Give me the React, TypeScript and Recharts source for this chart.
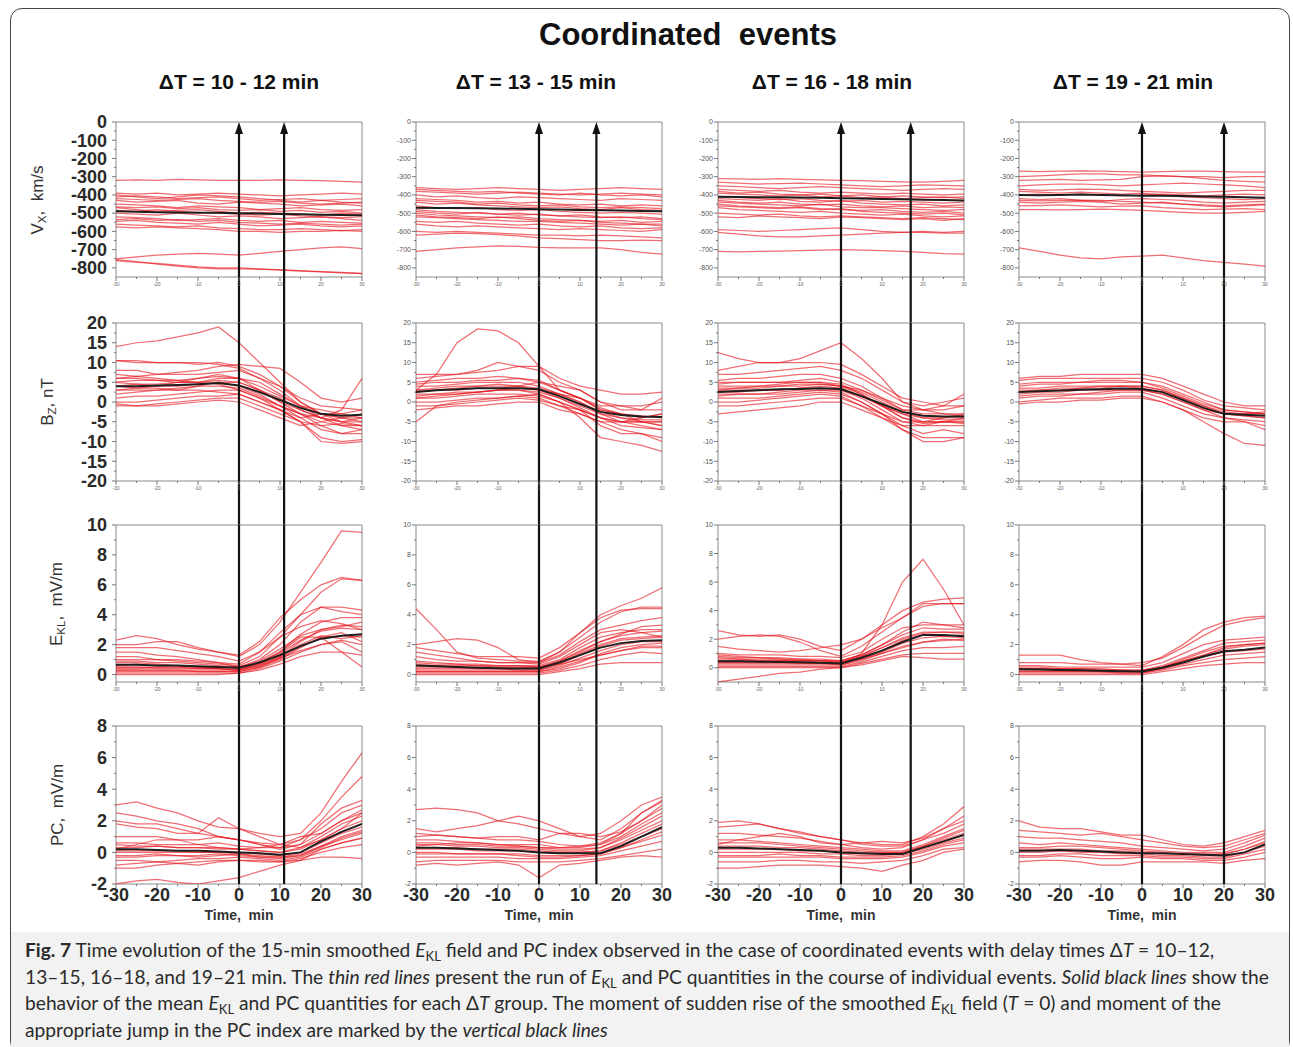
import React from 'react';
import { LineChart, Line, XAxis, YAxis, ReferenceLine, ReferenceArea } from 'recharts';

// time axis, minutes relative to the E_KL rise
const TIME = [-30, -25, -20, -15, -10, -5, 0, 5, 10, 15, 20, 25, 30];
const X_TICKS = [-30, -20, -10, 0, 10, 20, 30];
const DELAYS = [11, 14, 17, 20];
const GROUPS = ['ΔT = 10 - 12 min', 'ΔT = 13 - 15 min', 'ΔT = 16 - 18 min', 'ΔT = 19 - 21 min'];

const VX_TICKS = [0, -100, -200, -300, -400, -500, -600, -700, -800];
const BZ_TICKS = [20, 15, 10, 5, 0, -5, -10, -15, -20];
const EKL_TICKS = [10, 8, 6, 4, 2, 0];
const PC_TICKS = [8, 6, 4, 2, 0, -2];

// Vx, km/s
const vxA = [
  [-320, -318, -320, -315, -318, -320, -320, -320, -318, -320, -322, -325, -330],
  [-390, -395, -390, -400, -395, -390, -395, -400, -405, -400, -395, -390, -395],
  [-410, -405, -410, -420, -415, -410, -420, -430, -425, -420, -430, -440, -445],
  [-430, -440, -435, -430, -445, -450, -440, -445, -450, -460, -455, -450, -460],
  [-450, -455, -460, -470, -460, -465, -470, -480, -475, -470, -480, -485, -480],
  [-470, -480, -490, -485, -480, -490, -500, -495, -500, -505, -510, -500, -505],
  [-500, -505, -510, -500, -510, -520, -515, -520, -530, -525, -520, -530, -540],
  [-520, -525, -530, -540, -535, -530, -540, -545, -540, -550, -545, -550, -555],
  [-545, -540, -550, -555, -560, -550, -560, -570, -565, -560, -570, -575, -570],
  [-560, -565, -570, -575, -570, -580, -585, -590, -590, -585, -590, -595, -590],
  [-575, -580, -575, -580, -585, -590, -600, -600, -605, -600, -600, -595, -600],
  [-400, -410, -420, -410, -400, -405, -410, -420, -430, -440, -430, -425, -420],
  [-420, -425, -430, -425, -420, -430, -435, -440, -435, -445, -450, -445, -440],
  [-485, -490, -480, -490, -495, -500, -505, -510, -505, -515, -520, -525, -520],
  [-535, -530, -540, -535, -545, -540, -550, -555, -560, -555, -560, -565, -560],
  [-465, -470, -465, -475, -470, -480, -485, -480, -490, -485, -495, -490, -500],
  [-750, -740, -730, -725, -720, -725, -730, -720, -710, -700, -690, -685, -695],
  [-755, -765, -780, -790, -800, -805, -805, -808, -810, -815, -820, -825, -830],
  [-760, -770, -775, -785, -795, -800, -800, -805, -812, -818, -822, -828, -832],
];
const vxMeanA = [-490, -492, -495, -496, -497, -498, -500, -502, -504, -506, -508, -510, -512];

const vxB = [
  [-360, -365, -370, -365, -360, -365, -370, -375, -370, -365, -360, -365, -370],
  [-380, -385, -390, -395, -390, -385, -390, -395, -400, -395, -390, -395, -400],
  [-400, -410, -405, -415, -420, -410, -415, -420, -425, -430, -420, -425, -430],
  [-420, -425, -430, -440, -435, -445, -440, -450, -455, -450, -460, -455, -460],
  [-440, -450, -445, -455, -460, -465, -470, -465, -475, -480, -470, -480, -485],
  [-460, -470, -475, -470, -480, -485, -480, -490, -495, -500, -495, -500, -505],
  [-480, -490, -495, -500, -505, -500, -510, -515, -510, -520, -525, -520, -530],
  [-500, -510, -515, -520, -525, -520, -530, -535, -540, -545, -540, -550, -545],
  [-520, -525, -530, -535, -540, -545, -545, -550, -555, -560, -565, -560, -570],
  [-545, -550, -545, -555, -560, -565, -560, -570, -575, -570, -580, -585, -580],
  [-560, -570, -575, -570, -575, -580, -585, -590, -585, -590, -595, -600, -590],
  [-430, -435, -440, -450, -445, -455, -460, -455, -465, -470, -465, -470, -475],
  [-490, -500, -505, -495, -505, -510, -505, -515, -520, -525, -520, -530, -535],
  [-510, -520, -525, -530, -520, -530, -540, -545, -540, -550, -555, -560, -560],
  [-370, -375, -380, -385, -380, -390, -395, -400, -390, -400, -405, -400, -410],
  [-600, -605, -600, -605, -610, -615, -620, -620, -625, -620, -625, -630, -635],
  [-620, -615, -610, -612, -618, -625, -635, -640, -645, -650, -650, -648, -650],
  [-710, -700, -690, -685, -680, -682, -688, -690, -690, -690, -700, -715, -725],
];
const vxMeanB = [-470, -471, -472, -473, -474, -476, -478, -480, -482, -484, -486, -488, -490];

const vxC = [
  [-310, -312, -315, -310, -315, -318, -320, -322, -325, -328, -330, -325, -320],
  [-330, -335, -340, -338, -335, -340, -345, -350, -355, -350, -345, -348, -350],
  [-350, -355, -360, -365, -360, -355, -360, -365, -370, -375, -370, -365, -370],
  [-370, -375, -380, -375, -385, -390, -385, -390, -395, -390, -395, -400, -395],
  [-390, -395, -400, -405, -400, -410, -405, -415, -410, -420, -415, -410, -420],
  [-410, -415, -420, -425, -420, -430, -435, -430, -440, -435, -440, -445, -440],
  [-430, -440, -445, -440, -450, -455, -450, -460, -465, -460, -470, -465, -470],
  [-450, -460, -465, -470, -465, -475, -480, -485, -480, -490, -495, -490, -500],
  [-470, -480, -485, -490, -495, -490, -500, -505, -510, -505, -515, -520, -515],
  [-500, -505, -510, -505, -515, -520, -515, -520, -525, -530, -525, -530, -535],
  [-520, -525, -515, -520, -525, -530, -520, -525, -530, -535, -530, -540, -530],
  [-380, -390, -385, -395, -400, -395, -405, -400, -410, -405, -410, -415, -410],
  [-440, -445, -450, -455, -460, -450, -465, -470, -470, -475, -480, -485, -480],
  [-460, -465, -470, -475, -470, -480, -475, -490, -495, -500, -505, -500, -510],
  [-420, -425, -430, -420, -435, -440, -430, -445, -450, -455, -450, -460, -455],
  [-590, -595, -600, -595, -590, -585, -580, -590, -600, -605, -605, -610, -610],
  [-605, -615, -625, -630, -630, -625, -620, -615, -610, -605, -600, -605, -600],
  [-710, -712, -710, -708, -705, -703, -700, -702, -705, -710, -715, -722, -725],
];
const vxMeanC = [-410, -411, -412, -413, -414, -416, -418, -420, -422, -424, -426, -428, -430];

const vxD = [
  [-270, -272, -270, -268, -270, -272, -275, -272, -270, -270, -272, -275, -275],
  [-300, -295, -290, -285, -285, -290, -290, -295, -300, -300, -305, -300, -300],
  [-320, -318, -315, -320, -318, -315, -300, -295, -300, -310, -320, -325, -330],
  [-350, -345, -340, -340, -345, -350, -345, -340, -335, -340, -345, -350, -360],
  [-370, -375, -372, -368, -370, -375, -380, -385, -390, -385, -380, -375, -375],
  [-400, -395, -400, -395, -400, -405, -400, -395, -400, -405, -400, -395, -400],
  [-420, -425, -420, -430, -435, -425, -420, -425, -430, -440, -445, -440, -435],
  [-440, -445, -440, -435, -440, -450, -445, -440, -450, -455, -460, -455, -450],
  [-460, -458, -455, -460, -465, -462, -460, -470, -475, -480, -478, -475, -480],
  [-480, -480, -482, -480, -478, -480, -485, -490, -495, -500, -500, -495, -490],
  [-380, -385, -390, -385, -390, -395, -390, -400, -410, -415, -420, -425, -420],
  [-430, -432, -430, -428, -430, -435, -440, -445, -450, -460, -465, -460, -455],
  [-690, -710, -730, -745, -750, -740, -735, -730, -745, -760, -770, -780, -790],
];
const vxMeanD = [-400, -402, -400, -398, -400, -402, -405, -405, -406, -408, -410, -412, -415];

// Bz, nT
const bzA = [
  [14, 15, 15.5, 16.5, 17.5, 19, 15, 10, 5, 0, -3, -5, -6],
  [10.5, 10.5, 10, 10, 9.5, 10, 9, 7, 4, 0, -3, -4, -3],
  [10.5, 10, 10, 10, 10, 9.5, 8.5, 6, 3, -1, -4, -2, 6],
  [7, 6.5, 7, 7.5, 8, 9, 9.5, 9, 8.5, 5, 1, 0, 1],
  [6, 6.5, 6, 5.5, 5, 6, 6, 3, 0, -3, -6, -8, -8],
  [5, 4.5, 4, 4, 4.5, 5, 4, 2, -1, -4, -7, -8, -7],
  [4, 3.5, 3.5, 3, 3, 2.5, 2, 0, -2, -5, -9, -10, -9.5],
  [2, 2.5, 3, 3, 4, 5, 5, 3, 1, -2, -4, -5, -5],
  [1, 1.5, 1.5, 2, 2.5, 3, 3, 1, -2, -5, -10, -10.5, -10],
  [0, 0, 0.5, 1, 1.5, 1.5, 2, 0, -2, -4, -3, -3, -2],
  [-1, -1, -0.5, 0, 0.5, 1, 1, -1, -3, -5, -6, -5.5, -6],
  [-0.5, -1, -1, -0.5, 0, 0.5, 0, -2, -4, -6, -5, -4, -4],
  [8, 8, 7, 7, 7, 7.5, 8, 6, 4, 1, -1, -1.5, -2],
  [3, 3.5, 4, 5, 6, 7, 6, 5, 2, -1, -2, -3, -4],
  [5, 5.5, 5.5, 5, 5, 4.5, 3, 1, -1, -3, -4, -6, -7],
  [4, 4.5, 4.5, 5, 5, 5.5, 5, 3, 0, -2, -4, -5, -4],
  [3, 3, 3, 3.5, 4, 4, 3.5, 1.5, -1, -3, -5, -6, -6],
  [6, 6, 5.5, 5.5, 6, 6.5, 6, 4, 1.5, -1, -3, -4, -5],
];
const bzMeanA = [4, 4, 4.2, 4.3, 4.5, 4.8, 4.2, 2.5, 0.5, -1.5, -3, -3.5, -3.2];

const bzB = [
  [3, 7, 15, 18.5, 18, 15, 9, 3, 1, -2, -3, -5, -5],
  [-5, -1, 0, 0.5, 1, 1.5, 2, 0, -2, -4, -5, -5, -6],
  [7, 7, 7, 7.5, 8, 9, 9, 6, 4, 3, 2, 2, 2.5],
  [6, 6.5, 7, 8, 10, 9, 8, 5, 3, 0, -1, -1, 0],
  [5, 5.5, 6, 6, 6.5, 6, 5.5, 3, 1, -2, -3, -4, -3],
  [4, 4, 4.5, 5, 5, 5, 4, 2, 0, -3, -4, -5, -5],
  [3, 3, 3.5, 4, 4, 4, 3, 1, -1, -3, -5, -6, -7],
  [2, 2, 2, 2.5, 3, 3, 2, 0, -2, -6, -8, -8, -9],
  [1, 1, 1.5, 2, 2, 2, 1.5, 0, -4, -9, -10, -11, -12.5],
  [0, 0, 0.5, 1, 1, 1.5, 1, -1, -3, -5, -7, -8, -10],
  [-1, -1, -0.5, 0, 0.5, 1, 0.5, -1, -2, -4, -5, -4, -3],
  [-2, -1.5, -1, -1, -0.5, 0, 0, -2, -3, -5, -5, -5, -6],
  [3, 3.5, 4, 4, 4.5, 4, 5, 4, 3, 0, -2, -2, 1],
  [1, 1.5, 2, 2.5, 3, 3.5, 3, 2, 1, -1, -1, -2, -2],
  [2.5, 3, 3, 3.5, 3.5, 4, 3.5, 2, 0, -2.5, -4, -4.5, -4.5],
  [4.5, 5, 5, 5.5, 5.5, 6, 5, 3, 1, -1.5, -3, -3.5, -4],
  [1.5, 2, 2.5, 2.5, 3, 3, 2.5, 1, -1.5, -4, -6, -6.5, -7],
];
const bzMeanB = [2.5, 3, 3.2, 3.5, 3.5, 3.5, 3.2, 1.5, -0.5, -2.5, -3.3, -3.7, -3.8];

const bzC = [
  [12.5, 11, 10, 10, 11, 13, 15, 11, 6, 0, -2, -3, -3],
  [8, 9, 10, 10, 10, 10, 9.5, 7, 4, 1, 0, -1, -1],
  [7, 7, 7.5, 8, 8.5, 9, 8, 6, 3, 0, -1, 0, 1],
  [5.5, 6, 6, 6.5, 7, 7, 6, 4, 1, -2, -2, -1, 2],
  [5, 5, 5, 5, 5, 5, 4.5, 2, -1, -3, -5, -5, -4],
  [4, 4, 4, 4.5, 5, 5, 4, 2, -1, -4, -5, -5, -5],
  [3, 3, 3, 3, 3.5, 3.5, 3, 1, -2, -5, -6, -6, -6],
  [2, 2, 2, 2.5, 3, 3, 2.5, 0, -3, -6, -8, -7, -8],
  [1, 1, 1, 1.5, 2, 2.5, 2, 0, -3, -7, -10, -10, -9],
  [0, 0, 0.5, 1, 1.5, 2, 1.5, -1, -4, -7, -9, -9, -9],
  [-1, -1, -0.5, 0, 0.5, 1, 1, -1, -3, -5, -5, -4, -3],
  [-3, -2.5, -2, -1.5, -1, 0, 0, -2, -4, -6, -6, -5, -5],
  [3, 3.5, 3.5, 4, 4, 4.5, 4, 3, 1, -1, -2, -2, -1],
  [1.5, 2, 2, 2, 2.5, 3, 3, 1.5, -1, -3, -4, -4, -4],
  [3.5, 3.5, 4, 4, 4.5, 4.5, 4, 2.5, 0, -2.5, -4, -4.5, -4.5],
  [2.5, 2.5, 3, 3, 3.5, 4, 3.5, 1.5, -1, -4, -5.5, -5, -5.5],
  [4.5, 5, 5, 5, 5.5, 6, 5, 3, 0.5, -2, -3, -3, -3.5],
];
const bzMeanC = [2.5, 2.8, 3, 3.2, 3.3, 3.5, 3.3, 1.5, -0.5, -2.5, -3.5, -3.7, -3.7];

const bzD = [
  [6, 6.5, 6.5, 7, 7, 7, 7, 6, 4, 2, 0, -1, -1],
  [5.5, 6, 6, 6, 6, 6, 6, 5, 3, 0.5, -1, -1.5, -2],
  [4.5, 5, 5, 5, 5.5, 5.5, 5, 4, 2, 0, -2, -2.5, -3],
  [3.5, 3.5, 4, 4, 4, 4, 4, 3, 1, -1, -3, -3.5, -4],
  [2, 2.5, 2.5, 3, 3, 3, 3, 2, 0, -2, -4, -4.5, -5],
  [1, 1.5, 1.5, 2, 2, 2.5, 2.5, 1, -1, -3, -4, -5, -6],
  [0, 0.5, 1, 1, 1, 1.5, 1.5, 0, -2, -5, -8, -10.5, -11],
  [-0.5, 0, 0, 0.5, 0.5, 1, 1, 0, -2, -4, -5, -5, -7],
  [2.5, 3, 3, 3.5, 3.5, 4, 4, 3, 1, -1, -2.5, -3, -3],
  [1.5, 2, 2, 2, 2.5, 3, 3, 2, 0, -2, -3, -3, -2.5],
  [3, 3, 3.5, 3.5, 4, 4, 3.5, 2.5, 0.5, -1.5, -3, -3.5, -4],
  [4, 4.5, 4.5, 5, 5, 5, 5, 3.5, 1.5, -0.5, -2, -2.5, -3],
];
const bzMeanD = [2.5, 2.7, 2.9, 3.1, 3.2, 3.4, 3.3, 2.5, 0.5, -1.5, -3, -3.2, -3.5];

// E_KL, mV/m
const ekA = [
  [2.3, 2.6, 2.4, 2, 1.7, 1.5, 1.2, 2, 3.5, 5.5, 7.5, 9.6, 9.5],
  [2, 2, 2.2, 2.2, 1.8, 1.5, 1.3, 2.2, 3.8, 5, 6, 6.5, 6.3],
  [1.5, 1.5, 1.3, 1.2, 1, 0.8, 0.7, 1.5, 2.8, 4, 5.5, 6.4, 6.3],
  [1, 1, 1, 0.9, 0.8, 0.7, 0.6, 1.2, 2.5, 4, 4.5, 4.5, 4.3],
  [0.8, 0.8, 0.7, 0.6, 0.5, 0.5, 0.5, 1, 2, 3.5, 4.5, 4.2, 4],
  [0.5, 0.5, 0.5, 0.5, 0.4, 0.4, 0.3, 0.8, 1.5, 2.7, 3.5, 3.8, 3.8],
  [0.3, 0.3, 0.3, 0.3, 0.3, 0.3, 0.3, 0.6, 1.2, 2.2, 3, 3.2, 3.5],
  [0.2, 0.2, 0.2, 0.2, 0.2, 0.2, 0.2, 0.5, 1, 1.8, 2.5, 2.8, 2.2],
  [0.1, 0.1, 0.1, 0.1, 0.1, 0.1, 0.1, 0.4, 0.9, 1.5, 2, 2.2, 1.5],
  [0, 0, 0, 0, 0, 0, 0.1, 0.3, 0.7, 1.2, 1.5, 1.5, 1.3],
  [1.2, 1.2, 1, 1, 0.9, 0.8, 0.5, 0.8, 1.5, 2.5, 2.5, 1.5, 0.5],
  [0.6, 0.7, 0.6, 0.6, 0.5, 0.5, 0.4, 0.7, 1.2, 2, 2.6, 2.4, 2.6],
  [0.4, 0.4, 0.5, 0.5, 0.5, 0.4, 0.3, 0.6, 1.1, 1.6, 2, 2.3, 2],
  [1.8, 1.8, 1.8, 1.6, 1.4, 1.2, 0.9, 1.5, 2.5, 3.2, 3.6, 3.4, 3],
  [0.5, 0.5, 0.4, 0.4, 0.4, 0.4, 0.3, 0.7, 1.4, 2.3, 2.9, 3.1, 3],
  [0.3, 0.3, 0.3, 0.3, 0.2, 0.2, 0.2, 0.5, 1.1, 1.9, 2.4, 2.6, 2.5],
  [0.9, 0.9, 0.8, 0.8, 0.7, 0.6, 0.5, 0.9, 1.7, 2.6, 3, 3.3, 3.2],
];
const ekMeanA = [0.65, 0.65, 0.6, 0.6, 0.55, 0.5, 0.45, 0.8, 1.3, 1.9, 2.4, 2.6, 2.7];

const ekB = [
  [4.4, 3, 1.5, 1.1, 1, 0.9, 0.9, 1.5, 2.5, 3.5, 4.2, 4.5, 4.5],
  [2, 2.2, 2.4, 2.3, 1.8, 1, 0.8, 1.5, 2.8, 4, 4.6, 5.1, 5.8],
  [1.8, 1.6, 1.4, 1.2, 1.2, 1.2, 1.1, 1.8, 2.8, 3.8, 4.3, 4.4, 4.4],
  [1.2, 1, 0.9, 0.9, 0.8, 0.8, 0.8, 1.3, 2.2, 3, 3.3, 3.6, 3.8],
  [0.8, 0.7, 0.7, 0.7, 0.6, 0.6, 0.6, 1, 1.8, 2.5, 2.8, 3, 3],
  [0.5, 0.5, 0.5, 0.4, 0.4, 0.4, 0.4, 0.8, 1.4, 2, 2.4, 2.5, 2.6],
  [0.3, 0.3, 0.3, 0.3, 0.3, 0.3, 0.3, 0.6, 1.1, 1.6, 2, 2.2, 2.2],
  [0.2, 0.2, 0.2, 0.2, 0.2, 0.2, 0.2, 0.5, 0.9, 1.3, 1.6, 1.8, 1.8],
  [0.1, 0.1, 0.1, 0.1, 0.1, 0.1, 0.1, 0.3, 0.6, 1, 1.3, 1.5, 1.4],
  [0, 0, 0, 0, 0, 0, 0, 0.2, 0.4, 0.7, 0.8, 0.8, 0.8],
  [1.5, 1.3, 1.1, 0.9, 0.8, 0.8, 0.7, 1.2, 2, 2.8, 3, 2.8, 2.5],
  [0.6, 0.6, 0.5, 0.5, 0.5, 0.5, 0.5, 0.9, 1.6, 2.2, 2.7, 3.2, 3.3],
  [0.9, 0.8, 0.7, 0.6, 0.6, 0.6, 0.5, 0.7, 1, 1.3, 1.6, 1.9, 1.9],
  [0.4, 0.4, 0.4, 0.4, 0.4, 0.3, 0.3, 0.7, 1.3, 1.9, 2.3, 2.4, 2.5],
  [0.7, 0.6, 0.6, 0.6, 0.5, 0.5, 0.5, 0.9, 1.5, 2.2, 2.6, 2.8, 2.9],
  [0.2, 0.2, 0.2, 0.2, 0.2, 0.2, 0.2, 0.4, 0.8, 1.4, 1.8, 2, 2.1],
];
const ekMeanB = [0.6, 0.55, 0.5, 0.45, 0.42, 0.4, 0.4, 0.8, 1.3, 1.8, 2.1, 2.25, 2.3];

const ekC = [
  [0.4, 0.4, 0.4, 0.4, 0.4, 0.3, 0.3, 1, 3, 6, 7.6, 5.5, 3],
  [2.6, 2.3, 2.2, 2.3, 2, 1.5, 1.2, 2, 3, 4, 4.6, 4.8, 4.9],
  [2, 2.2, 2.3, 2.2, 1.8, 1.2, 0.8, 1.5, 2.5, 3.5, 4.3, 4.5, 4.5],
  [1.5, 1.3, 1.2, 1.1, 1.2, 1.4, 1.6, 2, 2.8, 3.5, 4.5, 4.5, 4.5],
  [1, 0.9, 0.9, 0.9, 0.8, 0.8, 0.7, 1.1, 2, 2.8, 3, 3, 3],
  [0.7, 0.6, 0.6, 0.6, 0.5, 0.5, 0.5, 0.9, 1.6, 2.3, 2.8, 2.7, 2.7],
  [0.4, 0.4, 0.4, 0.4, 0.3, 0.3, 0.3, 0.7, 1.2, 1.9, 2.3, 2.2, 2.3],
  [0.2, 0.2, 0.2, 0.2, 0.2, 0.2, 0.2, 0.5, 1, 1.5, 1.8, 1.9, 2],
  [0.1, 0.1, 0.1, 0.1, 0.1, 0.1, 0.1, 0.4, 0.8, 1.2, 1.4, 1.4, 1.5],
  [0, 0, 0, 0, 0, 0, 0, 0.3, 0.6, 0.9, 1, 1, 1],
  [-1, -0.8, -0.6, -0.4, -0.3, -0.1, 0, 0.2, 0.5, 0.8, 0.7, 0.6, 0.6],
  [0.9, 0.8, 0.7, 0.6, 0.6, 0.5, 0.4, 0.8, 1.4, 2, 2.4, 2.5, 2.5],
  [0.5, 0.5, 0.5, 0.5, 0.5, 0.5, 0.4, 0.6, 1, 1.4, 1.8, 2, 1.9],
  [0.6, 0.6, 0.5, 0.5, 0.5, 0.4, 0.4, 0.8, 1.4, 2.1, 2.5, 2.5, 2.4],
  [0.3, 0.3, 0.3, 0.3, 0.3, 0.3, 0.2, 0.6, 1.1, 1.7, 2.1, 2.2, 2.1],
  [0.8, 0.7, 0.7, 0.7, 0.6, 0.6, 0.5, 0.9, 1.6, 2.5, 3.2, 3, 2.8],
];
const ekMeanC = [0.45, 0.45, 0.42, 0.4, 0.38, 0.35, 0.3, 0.7, 1.2, 1.8, 2.3, 2.3, 2.2];

const ekD = [
  [1.3, 1.3, 1.3, 1, 0.8, 0.7, 0.6, 1.2, 2, 3, 3.5, 3.8, 3.9],
  [0.8, 0.8, 0.8, 0.7, 0.7, 0.7, 0.8, 1.1, 1.8, 2.6, 3.3, 3.6, 3.8],
  [0.6, 0.6, 0.5, 0.5, 0.5, 0.5, 0.5, 0.8, 1.4, 2, 2.3, 2.4, 2.5],
  [0.4, 0.4, 0.4, 0.4, 0.4, 0.3, 0.3, 0.6, 1.1, 1.6, 2.1, 2.2, 2.3],
  [0.3, 0.3, 0.3, 0.3, 0.2, 0.2, 0.2, 0.5, 0.9, 1.3, 1.7, 1.9, 2],
  [0.2, 0.2, 0.2, 0.2, 0.2, 0.2, 0.2, 0.4, 0.7, 1, 1.3, 1.4, 1.5],
  [0.1, 0.1, 0.1, 0.1, 0.1, 0.1, 0.1, 0.3, 0.6, 0.8, 1, 1.1, 1.2],
  [0, 0, 0, 0, 0, 0, 0, 0.2, 0.4, 0.6, 0.7, 0.8, 0.8],
  [0.5, 0.5, 0.4, 0.4, 0.3, 0.3, 0.3, 0.5, 0.9, 1.3, 1.8, 2, 2.1],
  [0.4, 0.4, 0.3, 0.3, 0.3, 0.3, 0.2, 0.5, 1, 1.5, 1.9, 2, 2.1],
  [0.2, 0.2, 0.2, 0.2, 0.2, 0.1, 0.1, 0.4, 0.8, 1.2, 1.5, 1.6, 1.7],
];
const ekMeanD = [0.35, 0.33, 0.3, 0.28, 0.25, 0.22, 0.2, 0.45, 0.8, 1.2, 1.55, 1.65, 1.8];

// PC index, mV/m
const pcA = [
  [3, 3.2, 2.8, 2.5, 2, 1.6, 1.5, 1.2, 1, 1.2, 2.5, 4.5, 6.3],
  [2.5, 2.3, 2, 1.8, 1.5, 1, 0.8, 0.5, 0.3, 0.8, 2, 3.5, 4.8],
  [2, 1.8, 1.8, 1.5, 1.2, 1, 0.8, 0.5, 0.2, 0.5, 1.8, 2.8, 3.3],
  [1, 1, 1, 0.8, 0.8, 1, 0.8, 0.6, 0.5, 0.8, 1.5, 2.5, 3],
  [0.6, 0.6, 0.5, 0.5, 0.5, 0.6, 0.4, 0.3, 0.3, 0.5, 1.2, 2, 2.7],
  [0.3, 0.3, 0.4, 0.3, 0.3, 0.2, 0.2, 0.1, 0, 0.3, 1, 1.8, 2.3],
  [0, 0, 0, 0, 0, 0, 0, -0.1, -0.2, 0, 0.6, 1.2, 1.6],
  [-0.3, -0.3, -0.2, -0.2, -0.3, -0.2, -0.1, -0.3, -0.3, -0.1, 0.4, 0.8, 1.2],
  [-0.5, -0.5, -0.6, -0.5, -0.4, -0.4, -0.3, -0.4, -0.5, -0.3, 0.2, 0.6, 0.9],
  [-0.8, -0.7, -0.6, -0.7, -0.6, -0.5, -0.5, -0.6, -0.6, -0.4, 0, 0.3, 0.5],
  [1.8, 1.6, 1.5, 1.2, 1.2, 2.2, 1.5, 1, 0.5, 0.3, 0.8, 1.5, 2.5],
  [0.2, 0.5, 0.8, 0.8, 0.5, 0.3, 0.2, 0.3, 0.5, 1, 1.2, 2, 2.5],
  [-1, -1, -0.8, -0.7, -0.8, -0.6, -0.5, -0.5, -0.6, -0.5, -0.3, -0.3, -0.4],
  [-2, -1.8, -1.7, -1.9, -2, -1.8, -1.6, -1.2, -0.8, -0.5, 0.2, 0.6, 0.9],
  [0.5, 0.4, 0.4, 0.3, 0.3, 0.3, 0.2, 0.1, 0, 0.2, 0.8, 1.5, 2],
  [0.1, 0.1, 0.1, 0.1, 0, 0, -0.1, -0.2, -0.3, -0.2, 0.4, 1, 1.4],
  [-0.2, -0.2, -0.1, -0.2, -0.2, -0.1, -0.2, -0.3, -0.4, -0.2, 0.3, 0.9, 1.3],
];
const pcMeanA = [0.2, 0.2, 0.15, 0.1, 0.1, 0.05, 0, -0.05, -0.15, 0, 0.7, 1.3, 1.8];

const pcB = [
  [2.7, 2.8, 2.7, 2.5, 2, 1.8, 1.5, 1.2, 1, 1.2, 2, 3, 3.5],
  [1.5, 1.3, 1.5, 1.7, 2, 2.3, 2, 1.5, 1, 0.8, 1.5, 2.5, 3.3],
  [1.2, 1.1, 1, 0.9, 0.8, 0.8, 0.7, 0.5, 0.4, 0.6, 1.2, 2, 2.8],
  [0.8, 0.8, 0.7, 0.6, 0.5, 0.5, 0.5, 0.3, 0.3, 0.5, 1, 1.8, 2.5],
  [0.5, 0.5, 0.4, 0.4, 0.3, 0.3, 0.2, 0.1, 0.1, 0.3, 0.8, 1.4, 2],
  [0.2, 0.2, 0.2, 0.1, 0.1, 0.1, 0, 0, 0, 0.1, 0.5, 1, 1.5],
  [0, 0, -0.1, -0.1, -0.1, -0.1, -0.2, -0.2, -0.2, -0.1, 0.3, 0.7, 1.1],
  [-0.3, -0.3, -0.3, -0.3, -0.3, -0.4, -0.4, -0.4, -0.3, -0.2, 0.1, 0.4, 0.7],
  [-0.6, -0.5, -0.5, -0.5, -0.5, -0.6, -0.6, -0.6, -0.5, -0.4, -0.2, 0, 0.2],
  [-0.8, -0.7, -0.8, -0.7, -0.6, -0.8, -1.6, -0.8, -0.7, -0.5, -0.3, -0.2, -0.3],
  [1, 1.1, 1, 0.9, 1, 1, 0.8, 1.2, 1.2, 1, 1.3, 2, 3],
  [0.4, 0.5, 0.6, 0.6, 0.5, 0.4, 0.3, 0.3, 0.4, 0.5, 1.2, 2.5, 3.2],
  [0.3, 0.3, 0.3, 0.2, 0.2, 0.2, 0.1, 0, 0, 0.1, 0.6, 1.2, 1.8],
  [-0.1, -0.1, -0.1, -0.1, -0.1, -0.2, -0.3, -0.3, -0.2, -0.1, 0.3, 0.8, 1.3],
  [0.6, 0.6, 0.5, 0.5, 0.4, 0.4, 0.3, 0.2, 0.2, 0.3, 0.9, 1.6, 2.3],
];
const pcMeanB = [0.3, 0.3, 0.25, 0.2, 0.15, 0.1, 0, -0.05, -0.05, -0.05, 0.4, 1, 1.6];

const pcC = [
  [1.9, 2, 1.8, 1.5, 1.2, 1, 0.8, 0.6, 0.5, 0.5, 1, 1.8, 2.9],
  [1.6, 1.7, 1.8, 1.5, 1.3, 1, 0.8, 0.5, 0.4, 0.4, 0.8, 1.5, 2.3],
  [1.2, 1.2, 1.1, 1, 0.9, 0.7, 0.5, 0.3, 0.2, 0.3, 0.8, 1.2, 1.8],
  [0.8, 0.8, 0.7, 0.6, 0.5, 0.4, 0.3, 0.2, 0.1, 0.1, 0.5, 1, 1.5],
  [0.4, 0.4, 0.4, 0.3, 0.3, 0.2, 0.1, 0, 0, 0, 0.4, 0.8, 1.2],
  [0, 0, 0, 0, 0, -0.1, -0.1, -0.2, -0.2, -0.1, 0.2, 0.6, 0.9],
  [-0.3, -0.3, -0.3, -0.3, -0.3, -0.3, -0.4, -0.4, -0.4, -0.3, 0, 0.4, 0.6],
  [-0.6, -0.6, -0.6, -0.5, -0.5, -0.6, -0.6, -0.7, -0.6, -0.5, -0.2, 0.2, 0.3],
  [-1, -1, -0.9, -0.8, -0.8, -0.8, -0.9, -1, -1.2, -0.8, -0.5, 0, 0.2],
  [0.5, 0.8, 1, 1.2, 1, 0.6, 0.5, 0.6, 0.7, 0.6, 0.9, 1.5, 2],
  [0.2, 0.2, 0.2, 0.2, 0.1, 0.1, 0, -0.1, -0.1, -0.1, 0.3, 0.7, 1.1],
  [-0.2, -0.2, -0.2, -0.1, -0.2, -0.2, -0.3, -0.3, -0.3, -0.2, 0.1, 0.5, 0.8],
  [0.6, 0.6, 0.6, 0.5, 0.4, 0.3, 0.2, 0.1, 0, 0, 0.4, 0.9, 1.4],
];
const pcMeanC = [0.3, 0.3, 0.25, 0.2, 0.15, 0.1, 0, -0.05, -0.1, -0.1, 0.3, 0.7, 1.1];

const pcD = [
  [2, 1.6, 1.5, 1.5, 1.3, 1.1, 1.1, 0.8, 0.5, 0.4, 0.6, 1, 1.4],
  [1.4, 1.3, 1.2, 1.1, 1.2, 1, 0.8, 0.6, 0.4, 0.3, 0.4, 0.8, 1.2],
  [1, 0.9, 0.9, 0.8, 0.7, 0.6, 0.4, 0.3, 0.2, 0.1, 0.2, 0.6, 1.1],
  [0.6, 0.5, 0.6, 0.5, 0.4, 0.3, 0.2, 0.1, 0, 0, 0, 0.4, 0.9],
  [0.3, 0.3, 0.4, 0.4, 0.3, 0.2, 0.1, 0, -0.1, -0.2, -0.1, 0.2, 0.7],
  [0, 0, 0.1, 0, 0, -0.1, -0.1, -0.2, -0.2, -0.3, -0.3, 0, 0.4],
  [-0.3, -0.3, -0.2, -0.3, -0.4, -0.4, -0.3, -0.4, -0.4, -0.5, -0.5, -0.3, 0],
  [-0.6, -0.5, -0.5, -0.6, -0.8, -0.8, -0.6, -0.6, -0.6, -0.6, -0.7, -0.5, -0.4],
  [0.2, 0.2, 0.2, 0.2, 0.1, 0.1, 0, -0.1, -0.1, -0.1, -0.1, 0.2, 0.6],
  [-0.2, -0.2, -0.1, -0.1, -0.2, -0.2, -0.2, -0.3, -0.3, -0.4, -0.4, -0.1, 0.2],
];
const pcMeanD = [0.1, 0.1, 0.15, 0.1, 0.05, 0, -0.05, -0.05, -0.1, -0.15, -0.2, 0, 0.5];

const ROWS = [
  { lines: [vxA, vxB, vxC, vxD], means: [vxMeanA, vxMeanB, vxMeanC, vxMeanD], ticks: VX_TICKS, domains: [[-850, 0], [-850, 0], [-850, 0], [-850, 0]] },
  { lines: [bzA, bzB, bzC, bzD], means: [bzMeanA, bzMeanB, bzMeanC, bzMeanD], ticks: BZ_TICKS, domains: [[-20, 20], [-20, 20], [-20, 20], [-20, 20]] },
  { lines: [ekA, ekB, ekC, ekD], means: [ekMeanA, ekMeanB, ekMeanC, ekMeanD], ticks: EKL_TICKS, domains: [[-0.5, 10], [-0.5, 10], [-1, 10], [-0.5, 10]] },
  { lines: [pcA, pcB, pcC, pcD], means: [pcMeanA, pcMeanB, pcMeanC, pcMeanD], ticks: PC_TICKS, domains: [[-2, 8], [-2, 8], [-2, 8], [-2, 8]] },
];

// layout
const COL_LEFT = [116, 416, 718, 1019];
const PLOT_W = 246;
const ROW_TOP = [122, 323, 525, 726];
const ROW_H = [155, 158, 157, 158];
const HEAD_X = [239, 536, 832, 1133];
const RED = '#e5141b';
const SUB = { fontSize: '0.68em', lineHeight: 0, verticalAlign: 'baseline', position: 'relative' as const, top: '0.3em' };

const withMinor = (ticks: number[]) => {
  const out: number[] = [];
  ticks.forEach((t, i) => {
    out.push(t);
    if (i < ticks.length - 1) out.push((t + ticks[i + 1]) / 2);
  });
  return out;
};

const YTick = (props: any) => {
  const { x, y, payload, big, majors } = props;
  const v = payload.value;
  const major = majors.includes(v);
  const ax = x + 8;
  return (
    <g>
      <line x1={ax} x2={ax - (major ? 4 : 2)} y1={y} y2={y} stroke="#777" strokeWidth={1} />
      {major && (
        <text x={ax - (big ? 9 : 5)} y={y} dy="0.35em" textAnchor="end" fontSize={big ? 18 : 7}
          fontWeight={big ? 700 : 400} fill={big ? '#2a2a2a' : '#555'}>{v}</text>
      )}
    </g>
  );
};

const XTick = (props: any) => {
  const { x, y, payload, big } = props;
  const v = payload.value;
  const major = v % 10 === 0;
  const ay = y - 8;
  return (
    <g>
      <line x1={x} x2={x} y1={ay} y2={ay + (major ? 4 : 2)} stroke="#777" strokeWidth={1} />
      {major && (
        <text x={x} y={ay + (big ? 17 : 9)} textAnchor="middle" fontSize={big ? 18 : 5}
          fontWeight={big ? 700 : 400} fill={big ? '#2a2a2a' : '#666'}>{v}</text>
      )}
    </g>
  );
};

const markerShape = (below: number, head: boolean) => (p: any) => {
  const top = Math.min(p.y1, p.y2);
  const bottom = Math.max(p.y1, p.y2);
  const x = p.x1;
  return (
    <g>
      <line x1={x} x2={x} y1={head ? top + 6 : top} y2={bottom + below} stroke="#111" strokeWidth={2.2} />
      {head && <polygon points={`${x - 4},${top + 12} ${x + 4},${top + 12} ${x},${top}`} fill="#111" />}
    </g>
  );
};

function Panel({ row, col }: { row: number; col: number }) {
  const cfg = ROWS[row];
  const lines = cfg.lines[col];
  const mean = cfg.means[col];
  const domain = cfg.domains[col];
  const data = TIME.map((t, i) => {
    const o: any = { t, mean: mean[i] };
    lines.forEach((l, j) => { o['s' + j] = l[i]; });
    return o;
  });
  const big = col === 0;
  const yw = big ? 60 : 30;
  const xh = row === 3 ? 40 : 20;
  const mt = 4;
  const mr = 6;
  const below = row < 3 ? ROW_TOP[row + 1] - (ROW_TOP[row] + ROW_H[row]) : 0;
  return (
    <div style={{ position: 'absolute', left: COL_LEFT[col] - yw, top: ROW_TOP[row] - mt }}>
      <LineChart width={yw + PLOT_W + mr} height={mt + ROW_H[row] + xh} data={data}
        margin={{ top: mt, right: mr, bottom: 0, left: 0 }}>
        <XAxis dataKey="t" type="number" domain={[-30, 30]} allowDataOverflow ticks={withMinor(X_TICKS)}
          interval={0} tickSize={6} tickMargin={2} tickLine={false} axisLine={false} height={xh}
          tick={<XTick big={row === 3} />}
          label={row === 3 ? { value: 'Time,\u00a0 min', position: 'insideBottom', offset: 4, fill: '#333', fontSize: 14, fontWeight: 700 } : undefined} />
        <YAxis type="number" domain={domain} allowDataOverflow ticks={withMinor(cfg.ticks)} interval={0}
          tickSize={6} tickMargin={2} tickLine={false} axisLine={false} width={yw}
          tick={<YTick big={big} majors={cfg.ticks} />} />
        <ReferenceArea x1={-30} x2={30} y1={domain[0]} y2={domain[1]} fill="none" stroke="#8a8a8a" strokeWidth={1} />
        {lines.map((_, j) => (
          <Line key={j} dataKey={'s' + j} stroke={RED} strokeOpacity={0.62} strokeWidth={1.25}
            dot={false} activeDot={false} isAnimationActive={false} />
        ))}
        <Line dataKey="mean" stroke="#1e1e1e" strokeWidth={2} dot={false} activeDot={false} isAnimationActive={false} />
        <ReferenceLine x={0} shape={markerShape(below, row === 0)} />
        <ReferenceLine x={DELAYS[col]} shape={markerShape(below, row === 0)} />
      </LineChart>
    </div>
  );
}

const Y_TITLES = [
  { x: 38, node: <>V<span style={SUB}>X</span>,&nbsp; km/s</> },
  { x: 48, node: <>B<span style={SUB}>Z</span>, nT</> },
  { x: 57, node: <>E<span style={SUB}>KL</span>,&nbsp; mV/m</> },
  { x: 58, node: <>PC,&nbsp; mV/m</> },
];

const Ekl = () => <><i>E</i><span style={SUB}>KL</span></>;

export default function App() {
  return (
    <div style={{ position: 'relative', width: 1293, height: 1047, background: '#fff', fontFamily: '"Liberation Sans", Arial, sans-serif', overflow: 'hidden' }}>
      <style>{'body{margin:0} .recharts-surface{overflow:visible}'}</style>
      <div style={{ position: 'absolute', left: 10, top: 8, width: 1280, height: 1045, border: '1.5px solid #444', borderRadius: 12, boxSizing: 'border-box' }} />
      <div style={{ position: 'absolute', left: 11, top: 932, width: 1278, height: 120, background: '#f2f2f2' }} />
      <div style={{ position: 'absolute', left: 488, top: 17, width: 400, textAlign: 'center', fontSize: 31, fontWeight: 700, color: '#111', whiteSpace: 'pre' }}>
        {'Coordinated  events'}
      </div>
      {GROUPS.map((g, i) => (
        <div key={g} style={{ position: 'absolute', left: HEAD_X[i] - 120, top: 70, width: 240, textAlign: 'center', fontSize: 21, fontWeight: 700, color: '#111' }}>{g}</div>
      ))}
      {Y_TITLES.map((t, r) => (
        <div key={r} style={{ position: 'absolute', left: t.x - 60, top: ROW_TOP[r] + ROW_H[r] / 2 - 12, width: 120, height: 24, lineHeight: '24px', textAlign: 'center', fontSize: 17, color: '#333', transform: 'rotate(-90deg)' }}>{t.node}</div>
      ))}
      {ROWS.map((_, r) => [0, 1, 2, 3].map((c) => <Panel key={r + '-' + c} row={r} col={c} />))}
      <div style={{ position: 'absolute', left: 25, top: 937, width: 1260, fontFamily: 'Lato, sans-serif', fontSize: 19.2, lineHeight: '26.7px', color: '#2b2b2b', whiteSpace: 'nowrap' }}>
        <b>Fig. 7</b> Time evolution of the 15-min smoothed <Ekl /> field and PC index observed in the case of coordinated events with delay times Δ<i>T</i> = 10–12,<br />
        13–15, 16–18, and 19–21 min. The <i>thin red lines</i> present the run of <Ekl /> and PC quantities in the course of individual events. <i>Solid black lines</i> show the<br />
        behavior of the mean <Ekl /> and PC quantities for each Δ<i>T</i> group. The moment of sudden rise of the smoothed <Ekl /> field (<i>T</i> = 0) and moment of the<br />
        appropriate jump in the PC index are marked by the <i>vertical black lines</i>
      </div>
    </div>
  );
}
